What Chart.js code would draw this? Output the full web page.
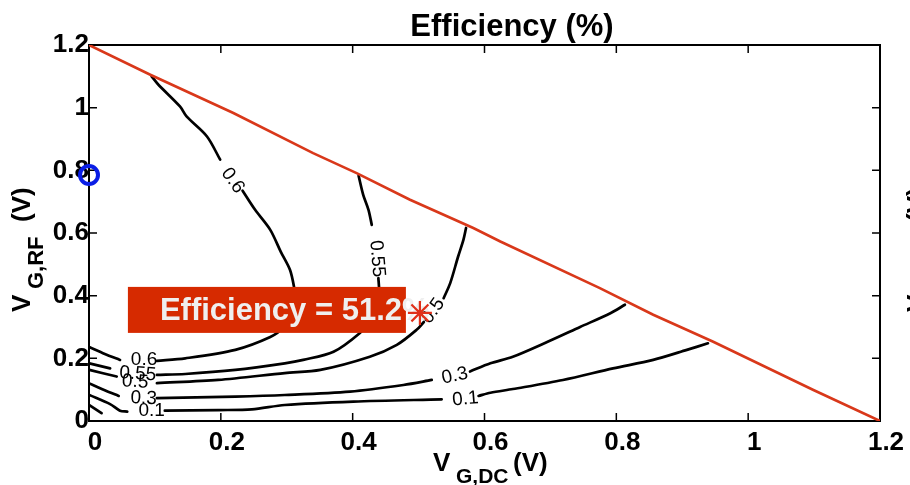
<!DOCTYPE html>
<html>
<head>
<meta charset="utf-8">
<script src="https://cdn.jsdelivr.net/npm/chart.js@4.4.1/dist/chart.umd.min.js"></script>
<style>
  html, body { margin: 0; padding: 0; background: #fff; }
</style>
</head>
<body>
<canvas id="eff" width="910" height="485"></canvas>
<script>
/* ── Data (V_G,DC, V_G,RF) ───────────────────────────── */
const xTicks = [0, 0.2, 0.4, 0.6, 0.8, 1, 1.2];
const yTicks = [0, 0.2, 0.4, 0.6, 0.8, 1, 1.2];

const boundary = [[0, 1.2], [0.093, 1.105], [0.219, 0.983], [0.340, 0.855], [0.406, 0.791],
  [0.487, 0.706], [0.583, 0.616], [0.624, 0.573], [0.775, 0.424], [0.856, 0.339],
  [0.947, 0.253], [1.099, 0.099], [1.2, 0]];

// contour 0.6
const c60top  = [[0.095, 1.100], [0.105, 1.074], [0.138, 1.004], [0.148, 0.972], [0.179, 0.908], [0.199, 0.834]];
const c60mid  = [[0.233, 0.735], [0.252, 0.674], [0.275, 0.610], [0.291, 0.540], [0.305, 0.482], [0.311, 0.428],
  [0.313, 0.387], [0.308, 0.348], [0.294, 0.297], [0.275, 0.268], [0.222, 0.227], [0.146, 0.200], [0.103, 0.192]];
const c60left = [[0.0005, 0.236], [0.024, 0.214], [0.047, 0.195]];
// contour 0.55
const c55top  = [[0.409, 0.783], [0.416, 0.722], [0.424, 0.674], [0.429, 0.626]];
const c55mid  = [[0.439, 0.456], [0.440, 0.419], [0.437, 0.371], [0.428, 0.323], [0.411, 0.281], [0.371, 0.221],
  [0.325, 0.195], [0.297, 0.184], [0.222, 0.163], [0.146, 0.150], [0.103, 0.147]];
const c55left = [[0.0005, 0.184], [0.032, 0.168]];
// contour 0.5
const c50top  = [[0.572, 0.616], [0.568, 0.578], [0.560, 0.525], [0.548, 0.440], [0.538, 0.392]];
const c50mid  = [[0.508, 0.316], [0.497, 0.291], [0.467, 0.243], [0.426, 0.205], [0.351, 0.163], [0.297, 0.153],
  [0.196, 0.131], [0.103, 0.121]];
const c50left = [[0.0005, 0.163], [0.042, 0.142]];
// contour 0.3
const c30left  = [[0.0005, 0.120], [0.023, 0.099], [0.045, 0.080]];
const c30mid   = [[0.103, 0.073], [0.222, 0.078], [0.297, 0.083], [0.396, 0.094], [0.477, 0.115], [0.520, 0.131]];
const c30right = [[0.578, 0.158], [0.609, 0.184], [0.643, 0.205], [0.695, 0.252], [0.745, 0.300], [0.791, 0.344], [0.813, 0.371]];
// contour 0.1
const c10left  = [[0.0005, 0.083], [0.032, 0.054], [0.047, 0.033], [0.058, 0.030]];
const c10mid   = [[0.115, 0.033], [0.196, 0.035], [0.247, 0.037], [0.297, 0.051], [0.401, 0.062], [0.535, 0.069]];
const c10right = [[0.591, 0.080], [0.609, 0.090], [0.643, 0.102], [0.719, 0.131], [0.795, 0.168], [0.856, 0.195],
  [0.907, 0.227], [0.939, 0.248]];
const c10stub  = [[0.0005, 0.051], [0.019, 0.025]];

const contourLabels = [
  ['0.6', 0.218, 0.767], ['0.6', 0.0835, 0.195],
  ['0.55', 0.437, 0.518], ['0.55', 0.074, 0.150],
  ['0.5', 0.522, 0.351], ['0.5', 0.070, 0.125],
  ['0.3', 0.083, 0.072], ['0.3', 0.555, 0.144],
  ['0.1', 0.095, 0.032], ['0.1', 0.571, 0.070]
];
const labelAngles = [54, 0, 85, 4, -55, 4, 3, -12, 0, -5];

const startPoint = [0, 0.785];
const optimum    = [0.502, 0.345];
const optimumText = 'Efficiency = 51.2%';

/* ── Helpers ─────────────────────────────────────────── */
const FONT = '"Liberation Sans", Arial, Helvetica, sans-serif';
const pts  = a => a.map(([x, y]) => ({ x, y }));

const contourSegments = [c60top, c60mid, c60left, c55top, c55mid, c55left, c50top, c50mid, c50left,
  c30left, c30mid, c30right, c10left, c10mid, c10right, c10stub];

function drawLabel(ctx, ox, oy, pieces) {
  // pieces: [text, dx, dy, size]
  pieces.forEach(([t, dx, dy, size]) => {
    ctx.font = `bold ${size}px ${FONT}`;
    ctx.fillText(t, ox + dx, oy + dy);
  });
}

/* ── Plugins ─────────────────────────────────────────── */
const frame = {
  id: 'frame',
  beforeDatasetsDraw(chart) {
    const { ctx, chartArea: a, scales: { x, y } } = chart;
    ctx.save();
    ctx.strokeStyle = '#000';
    ctx.lineWidth = 2;
    ctx.strokeRect(a.left, a.top, a.right - a.left, a.bottom - a.top);
    ctx.lineWidth = 1.5;
    ctx.beginPath();
    xTicks.forEach(v => {
      const px = x.getPixelForValue(v);
      ctx.moveTo(px, a.bottom); ctx.lineTo(px, a.bottom - 8);
      ctx.moveTo(px, a.top);    ctx.lineTo(px, a.top + 8);
    });
    yTicks.forEach(v => {
      const py = y.getPixelForValue(v);
      ctx.moveTo(a.left, py);  ctx.lineTo(a.left + 8, py);
      ctx.moveTo(a.right, py); ctx.lineTo(a.right - 8, py);
    });
    ctx.stroke();
    ctx.restore();
  },
  beforeDatasetDraw(chart, args) {
    if (args.index !== 0) return;
    const { ctx, scales: { x, y } } = chart;
    ctx.save();
    // contour labels
    ctx.font = `19px ${FONT}`;
    ctx.fillStyle = '#000';
    ctx.textAlign = 'center';
    ctx.textBaseline = 'middle';
    contourLabels.forEach(([t, vx, vy], i) => {
      ctx.save();
      ctx.translate(x.getPixelForValue(vx), y.getPixelForValue(vy));
      ctx.rotate(labelAngles[i] * Math.PI / 180);
      ctx.fillText(t, 0, 0);
      ctx.restore();
    });
    // annotation box, left of the optimum marker
    const px = x.getPixelForValue(optimum[0]);
    const py = y.getPixelForValue(optimum[1]);
    const bx = px - 292, by = py - 26, bw = 278, bh = 46;
    ctx.fillStyle = '#d62a00';
    ctx.fillRect(bx, by, bw, bh);
    ctx.fillStyle = '#efefef';
    ctx.textAlign = 'left';
    ctx.textBaseline = 'alphabetic';
    ctx.font = `bold 31px ${FONT}`;
    ctx.fillText(optimumText, bx + 32, by + 33);
    ctx.restore();
  },
  afterDraw(chart) {
    const { ctx } = chart;
    ctx.save();
    ctx.fillStyle = '#000';
    ctx.textAlign = 'center';
    ctx.textBaseline = 'alphabetic';
    ctx.font = `bold 31px ${FONT}`;
    ctx.fillText('Efficiency (%)', 512, 36);

    ctx.textAlign = 'left';
    drawLabel(ctx, 433, 471, [['V', 0, 0, 26], ['G,DC', 23, 12, 21], ['(V)', 80, 0, 26]]);

    // y labels (this plot and the neighbouring one, cut by the edge)
    [0, 895].forEach(off => {
      ctx.save();
      ctx.translate(30 + off, 312);
      ctx.rotate(-Math.PI / 2);
      drawLabel(ctx, 0, 0, [['V', 0, 0, 26], ['G,RF', 23, 13, 22], ['(V)', 90, 0, 26]]);
      ctx.restore();
    });
    ctx.restore();
  }
};

/* ── Chart ───────────────────────────────────────────── */
const tickFont = { family: FONT, size: 26, weight: 'bold' };

new Chart(document.getElementById('eff'), {
  type: 'scatter',
  data: {
    datasets: [
      {
        data: pts([optimum]),
        pointStyle: 'star', pointRadius: 12, borderColor: '#e0301a', borderWidth: 2.2,
        backgroundColor: 'transparent', clip: false
      },
      {
        data: pts([startPoint]),
        pointStyle: 'circle', pointRadius: 9, borderColor: '#0a1ee6', borderWidth: 4,
        backgroundColor: 'transparent', clip: false
      },
      {
        data: pts(boundary), showLine: true, pointRadius: 0,
        borderColor: '#d9381a', borderWidth: 2.6
      },
      ...contourSegments.map(seg => ({
        data: pts(seg), showLine: true, pointRadius: 0,
        borderColor: '#000', borderWidth: 2.7, tension: 0.3, borderCapStyle: 'round'
      }))
    ]
  },
  options: {
    responsive: false,
    animation: false,
    devicePixelRatio: 1,
    layout: { padding: { top: 45, right: 30, left: 0, bottom: 0 } },
    plugins: { legend: { display: false }, tooltip: { enabled: false } },
    scales: {
      x: {
        type: 'linear', min: 0, max: 1.2,
        afterBuildTicks: s => { s.ticks = xTicks.map(v => ({ value: v })); },
        afterFit: s => { s.height = 64; },
        grid: { display: false, drawTicks: false },
        border: { display: false },
        ticks: { font: tickFont, color: '#000', padding: 6, labelOffset: 6, maxRotation: 0,
          callback: v => String(v) }
      },
      y: {
        type: 'linear', min: 0, max: 1.2,
        afterBuildTicks: s => { s.ticks = yTicks.map(v => ({ value: v })); },
        afterFit: s => { s.width = 89; },
        grid: { display: false, drawTicks: false },
        border: { display: false },
        ticks: { font: tickFont, color: '#000', padding: 0, callback: v => String(v) }
      }
    }
  },
  plugins: [frame]
});
</script>
</body>
</html>
